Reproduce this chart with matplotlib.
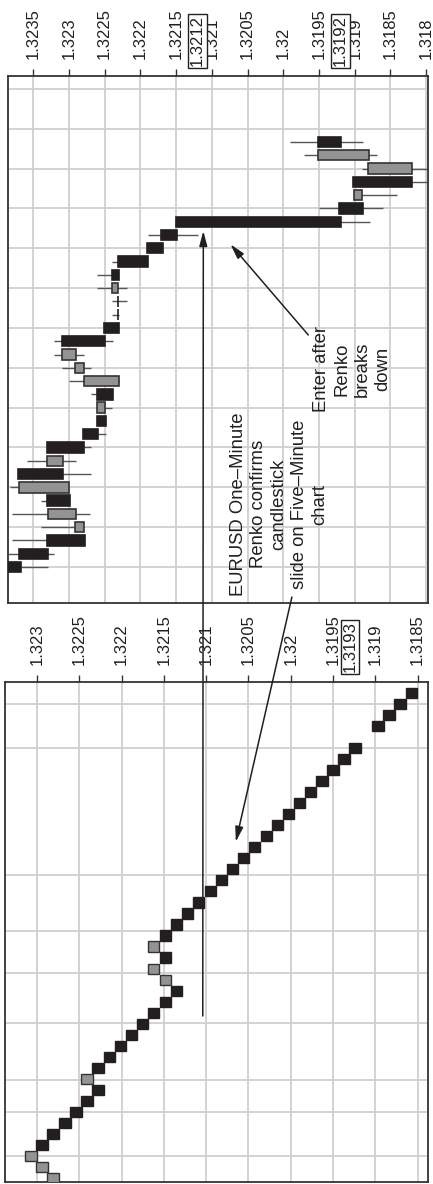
import matplotlib.pyplot as plt
from matplotlib.patches import Rectangle, ConnectionPatch

plt.rcParams['font.family'] = ['Liberation Sans', 'DejaVu Sans']

# five-minute candles (index 0 = oldest, time runs upward on the page)
candle_open = [1.32392, 1.32370, 1.32331, 1.32279, 1.32290, 1.32331, 1.32300, 1.32371,
               1.32308, 1.32331, 1.32280, 1.32261, 1.32250, 1.32261, 1.32230, 1.32279,
               1.32290, 1.32310, 1.32251, 1.32231, 1.32231, 1.32231, 1.32240, 1.32231,
               1.32191, 1.32171, 1.32150, 1.31922, 1.31890, 1.31902, 1.31820, 1.31880,
               1.31951]
candle_high = [1.32392, 1.32385, 1.32380, 1.32339, 1.32380, 1.32339, 1.32383, 1.32371,
               1.32359, 1.32331, 1.32280, 1.32261, 1.32261, 1.32269, 1.32300, 1.32310,
               1.32321, 1.32321, 1.32251, 1.32240, 1.32240, 1.32261, 1.32261, 1.32240,
               1.32191, 1.32189, 1.32150, 1.31950, 1.31901, 1.31902, 1.31890, 1.31971,
               1.31990]
candle_low = [1.32329, 1.32321, 1.32278, 1.32279, 1.32271, 1.32299, 1.32300, 1.32269,
              1.32290, 1.32269, 1.32248, 1.32248, 1.32240, 1.32238, 1.32230, 1.32269,
              1.32279, 1.32238, 1.32230, 1.32230, 1.32219, 1.32219, 1.32230, 1.32189,
              1.32168, 1.32119, 1.31879, 1.31860, 1.31841, 1.31795, 1.31795, 1.31869,
              1.31888]
candle_close = [1.32367, 1.32329, 1.32278, 1.32292, 1.32329, 1.32299, 1.32370, 1.32308,
                1.32331, 1.32279, 1.32259, 1.32248, 1.32261, 1.32238, 1.32279, 1.32292,
                1.32310, 1.32250, 1.32230, 1.32231, 1.32231, 1.32240, 1.32230, 1.32189,
                1.32168, 1.32149, 1.31919, 1.31888, 1.31901, 1.31820, 1.31881, 1.31951,
                1.31919]

top_ticks = [1.3235, 1.323, 1.3225, 1.322, 1.3215, 1.321, 1.3205, 1.32, 1.3195, 1.319, 1.3185, 1.318]
top_labels = ['1.3235', '1.323', '1.3225', '1.322', '1.3215', '1.321', '1.3205', '1.32',
              '1.3195', '1.319', '1.3185', '1.318']
top_marks = ['1.3212', '1.3192']

# one-minute renko bricks (slot 40 has no brick)
renko_slot = [0, 1, 2, 3, 4, 5, 6, 7, 8, 9, 10, 11, 12, 13, 14, 15, 16, 17, 18, 19, 20, 21,
              22, 23, 24, 25, 26, 27, 28, 29, 30, 31, 32, 33, 34, 35, 36, 37, 38, 39,
              41, 42, 43, 44]
renko_price = [1.32281, 1.32294, 1.32307, 1.32294, 1.32281, 1.32267, 1.32254, 1.32241,
               1.32228, 1.32241, 1.32228, 1.32214, 1.32201, 1.32188, 1.32175, 1.32162,
               1.32148, 1.32135, 1.32148, 1.32162, 1.32148, 1.32162, 1.32148, 1.32135,
               1.32122, 1.32109, 1.32095, 1.32082, 1.32069, 1.32056, 1.32043, 1.32029,
               1.32016, 1.32003, 1.31990, 1.31977, 1.31963, 1.31950, 1.31937, 1.31924,
               1.31897, 1.31884, 1.31871, 1.31857]
renko_up = [1, 1, 1, 0, 0, 0, 0, 0, 0, 1, 0, 0, 0, 0, 0, 0, 0, 0, 1, 1, 0, 1,
            0, 0, 0, 0, 0, 0, 0, 0, 0, 0, 0, 0, 0, 0, 0, 0, 0, 0, 0, 0, 0, 0]
renko_grid = [2.0, 6.0, 8.9, 14.1, 18.6, 22.45, 27.45, 39.0, 43.0]
brick = 0.000134

bottom_ticks = [1.323, 1.3225, 1.322, 1.3215, 1.321, 1.3205, 1.32, 1.3195, 1.319, 1.3185]
bottom_labels = ['1.323', '1.3225', '1.322', '1.3215', '1.321', '1.3205', '1.32',
                 '1.3195', '1.319', '1.3185']
bottom_marks = ['1.3193']

BLACK = '#231f20'
GRAY = '#939393'
EDGE = '#333333'
GRID = '#d0d0d0'
FS = 12

fig = plt.figure(figsize=(4.33, 11.84), dpi=100)
ax1 = fig.add_axes([0.0192, 0.4907, 0.970, 0.4451])
ax2 = fig.add_axes([0.0115, 0.0017, 0.9769, 0.4223])


def style(ax, ticks, labels, marks):
    ax.xaxis.tick_top()
    ax.set_xticks(ticks)
    ax.set_xticklabels(labels)
    ax.tick_params(axis='x', direction='out', length=5, width=1, color=EDGE,
                   labelsize=FS, labelrotation=90, pad=7, labelcolor=BLACK)
    ax.tick_params(axis='y', length=0, labelleft=False)
    ax.grid(True, color=GRID, lw=1.3)
    ax.set_axisbelow(True)
    for s in ax.spines.values():
        s.set_color(EDGE)
        s.set_linewidth(1.3)
    for m in marks:
        ax.annotate(m, xy=(float(m), 1), xycoords=ax.get_xaxis_transform(),
                    xytext=(0, 7), textcoords='offset points', rotation=90,
                    ha='center', va='bottom', fontsize=FS, color=BLACK,
                    bbox=dict(boxstyle='square,pad=0.1', fc='white', ec=BLACK, lw=1))


# candlestick panel
style(ax1, top_ticks, top_labels, top_marks)
ax1.set_xlim(1.32385, 1.31797)
ax1.set_ylim(-2.71, 36.97)
ax1.set_yticks(range(0, 37, 3))
for i, (o, h, l, c) in enumerate(zip(candle_open, candle_high, candle_low, candle_close)):
    ax1.hlines(i, l, h, color='#555555', lw=1, zorder=2)
    up = c > o
    ax1.add_patch(Rectangle((min(o, c), i - 0.39), abs(c - o), 0.78,
                            fc=GRAY if up else BLACK, ec=EDGE if up else BLACK,
                            lw=1.2, zorder=3))

# renko panel
style(ax2, bottom_ticks, bottom_labels, bottom_marks)
ax2.set_xlim(1.323378, 1.318378)
ax2.set_ylim(-0.36, 45.0)
ax2.set_yticks(renko_grid)
for s, p, u in zip(renko_slot, renko_price, renko_up):
    ax2.add_patch(Rectangle((p - brick / 2, s - 0.46), brick, 0.92,
                            fc=GRAY if u else BLACK, ec=EDGE if u else BLACK,
                            lw=1, zorder=3))

# annotations
ax1.text(1.32006, 4.74, 'EURUSD One–Minute\nRenko confirms\ncandlestick\nslide on Five–Minute\nchart',
         rotation=90, ha='center', va='center', multialignment='center',
         fontsize=13.3, linespacing=1.25, color=BLACK)
ax1.text(1.31904, 14.9, 'Enter after\nRenko\nbreaks\ndown',
         rotation=90, ha='center', va='center', multialignment='center',
         fontsize=13.3, linespacing=1.25, color=BLACK)

astyle = '-|>,head_length=0.45,head_width=0.12'
ax1.annotate('', xy=(1.32074, 24.3), xytext=(1.31965, 17.47),
             arrowprops=dict(arrowstyle=astyle, mutation_scale=20, color=BLACK,
                             lw=1.1, shrinkA=0, shrinkB=0))

fig.add_artist(ConnectionPatch(xyA=(1.32104, 14.7), coordsA=ax2.transData,
                               xyB=(1.32112, 25.3), coordsB=ax1.transData,
                               arrowstyle=astyle, mutation_scale=20, color=BLACK,
                               lw=1.1, shrinkA=0, shrinkB=0))
fig.add_artist(ConnectionPatch(xyA=(1.31988, -2.26), coordsA=ax1.transData,
                               xyB=(1.32065, 30.5), coordsB=ax2.transData,
                               arrowstyle=astyle, mutation_scale=20, color=BLACK,
                               lw=1.1, shrinkA=0, shrinkB=0))

fig.savefig('out.png', dpi=100)
